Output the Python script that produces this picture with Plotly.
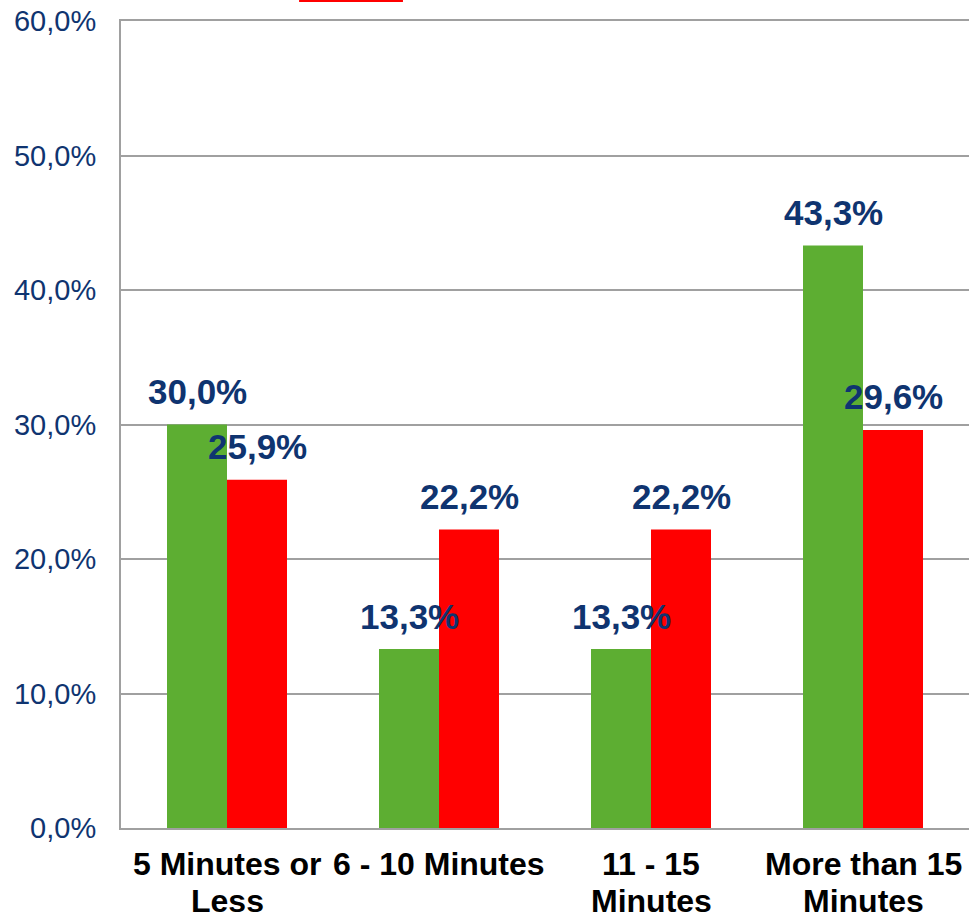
import plotly.graph_objects as go

# Survey answers: time spent, share of respondents per group
categories = ["5 Minutes or<br>Less", "6 - 10 Minutes", "11 - 15<br>Minutes", "More than 15<br>Minutes"]
green_values = [30.0, 13.3, 13.3, 43.3]
red_values = [25.9, 22.2, 22.2, 29.6]
y_ticks = [0, 10, 20, 30, 40, 50, 60]

GREEN = "#5DAE32"
RED = "#FF0000"
NAVY = "#0F3470"
FONT = "Liberation Sans, Arial"


def fmt(v):
    return f"{v:.1f}".replace(".", ",") + "%"


fig = go.Figure()
fig.add_trace(go.Bar(x=categories, y=green_values, marker=dict(color=GREEN, line=dict(width=0)),
                     name="Group A", hoverinfo="skip"))
fig.add_trace(go.Bar(x=categories, y=red_values, marker=dict(color=RED, line=dict(width=0)),
                     name="Group B", hoverinfo="skip"))

# value labels above each bar
for series, shift in ((green_values, -30), (red_values, 30)):
    for cat, v in zip(categories, series):
        fig.add_annotation(x=cat, y=v, text=fmt(v), showarrow=False, xshift=shift,
                           yshift=33, yanchor="middle",
                           font=dict(family=FONT, size=35, color=NAVY, weight="bold"))

# category labels, one annotation per line to keep the tight line spacing
for cat in categories:
    for i, line in enumerate(cat.split("<br>")):
        fig.add_annotation(x=cat, xref="x", y=0, yref="paper", text=line, showarrow=False,
                           yanchor="top", yshift=-16 - 37 * i,
                           font=dict(family=FONT, size=32, color="black", weight="bold"))

# red legend swatch peeking in at the top edge
fig.add_shape(type="rect", xref="paper", yref="paper", x0=0.21, x1=0.3325, y0=1.0235, y1=1.027,
              fillcolor=RED, line=dict(width=0), layer="above")

fig.update_layout(
    width=970, height=917,
    margin=dict(l=121, r=1, t=21, b=89),
    paper_bgcolor="white", plot_bgcolor="white",
    barmode="group", bargap=0.434, bargroupgap=0,
    showlegend=False,
    font=dict(family=FONT),
)
fig.update_xaxes(
    automargin=False, showticklabels=False,
    showgrid=False, showline=True, linecolor="#A0A0A0", linewidth=2, mirror=True,
    ticks="",
)
fig.update_yaxes(
    automargin=False,
    range=[0, 60], tickvals=y_ticks, ticktext=[fmt(v) for v in y_ticks],
    showgrid=True, gridcolor="#A0A0A0", gridwidth=1.5,
    showline=True, linecolor="#A0A0A0", linewidth=2, zeroline=False,
    ticks="", tickfont=dict(family=FONT, size=29, color=NAVY),
    ticklabelstandoff=17,
)

fig.write_html("out.html")
